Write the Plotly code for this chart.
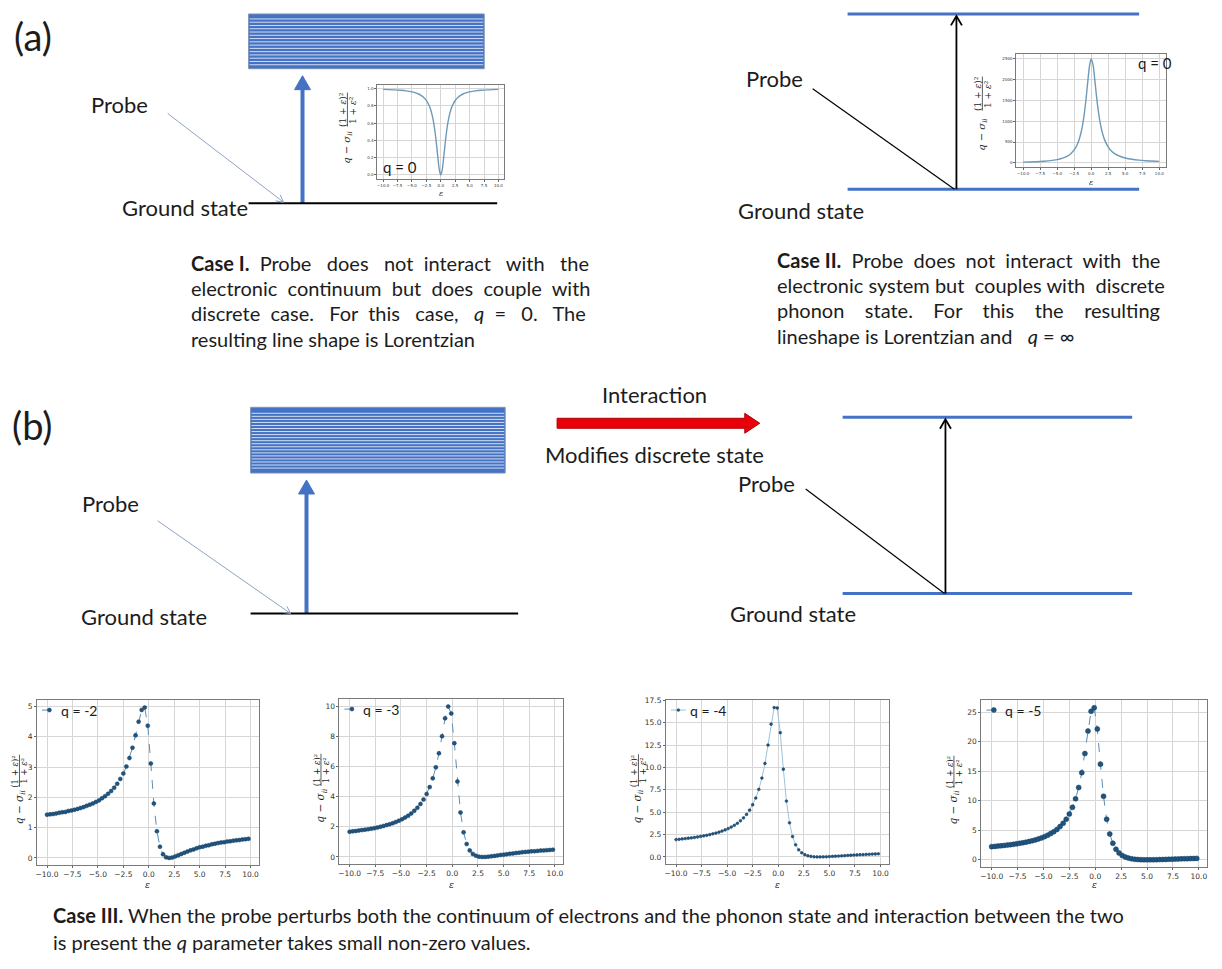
import math
import plotly.graph_objects as go

W, H = 1222, 969

# ---------------------------------------------------------------------------
# Fano line-shape values, read per point (energy grid shared by all four)
# ---------------------------------------------------------------------------
eps = [-10.0, -9.7, -9.4, -9.1, -8.8, -8.5, -8.2, -7.9, -7.6, -7.3, -7.0, -6.7,
       -6.4, -6.1, -5.8, -5.5, -5.2, -4.9, -4.6, -4.3, -4.0, -3.7, -3.4, -3.1,
       -2.8, -2.5, -2.2, -1.9, -1.6, -1.3, -1.0, -0.7, -0.4, -0.1, 0.2, 0.5,
       0.8, 1.1, 1.4, 1.7, 2.0, 2.3, 2.6, 2.9, 3.2, 3.5, 3.8, 4.1, 4.4, 4.7,
       5.0, 5.3, 5.6, 5.9, 6.2, 6.5, 6.8, 7.1, 7.4, 7.7, 8.0, 8.3, 8.6, 8.9,
       9.2, 9.5, 9.8]

fano_q2 = [1.43, 1.44, 1.45, 1.47, 1.49, 1.51, 1.52, 1.55, 1.57, 1.59, 1.62, 1.65,
           1.68, 1.72, 1.76, 1.80, 1.85, 1.90, 1.97, 2.04, 2.12, 2.21, 2.32, 2.45,
           2.61, 2.79, 3.02, 3.30, 3.64, 4.05, 4.50, 4.89, 4.97, 4.37, 3.12, 1.80,
           0.88, 0.37, 0.12, 0.02, 0.00, 0.01, 0.05, 0.09, 0.13, 0.17, 0.21, 0.25,
           0.28, 0.32, 0.35, 0.37, 0.40, 0.42, 0.45, 0.47, 0.49, 0.51, 0.52, 0.54,
           0.55, 0.57, 0.58, 0.59, 0.61, 0.62, 0.63]

fano_q3 = [1.67, 1.70, 1.72, 1.75, 1.78, 1.81, 1.84, 1.87, 1.91, 1.95, 2.00, 2.05,
           2.11, 2.17, 2.24, 2.31, 2.40, 2.50, 2.61, 2.73, 2.88, 3.06, 3.26, 3.51,
           3.81, 4.17, 4.63, 5.21, 5.94, 6.87, 8.00, 9.19, 9.97, 9.51, 7.54, 5.00,
           2.95, 1.63, 0.86, 0.43, 0.20, 0.08, 0.02, 0.00, 0.00, 0.02, 0.04, 0.07,
           0.10, 0.13, 0.15, 0.18, 0.21, 0.23, 0.26, 0.28, 0.31, 0.33, 0.35, 0.37,
           0.38, 0.40, 0.42, 0.43, 0.45, 0.46, 0.48]

fano_q4 = [1.94, 1.97, 2.01, 2.05, 2.09, 2.13, 2.18, 2.23, 2.29, 2.35, 2.42, 2.49,
           2.58, 2.67, 2.77, 2.89, 3.02, 3.17, 3.34, 3.53, 3.76, 4.04, 4.36, 4.75,
           5.23, 5.83, 6.58, 7.55, 8.81, 10.44, 12.50, 14.83, 16.69, 16.64, 13.88, 9.80,
           6.24, 3.81, 2.28, 1.36, 0.80, 0.46, 0.25, 0.13, 0.06, 0.02, 0.00, 0.00,
           0.01, 0.02, 0.04, 0.06, 0.08, 0.10, 0.12, 0.14, 0.17, 0.19, 0.21, 0.23,
           0.25, 0.26, 0.28, 0.30, 0.32, 0.33, 0.35]

fano_q5 = [2.23, 2.27, 2.32, 2.37, 2.43, 2.49, 2.55, 2.62, 2.70, 2.79, 2.88, 2.98,
           3.10, 3.22, 3.37, 3.53, 3.71, 3.92, 4.16, 4.44, 4.76, 5.15, 5.62, 6.18,
           6.88, 7.76, 8.88, 10.33, 12.24, 14.76, 18.00, 21.80, 25.14, 25.75, 22.15, 16.20,
           10.76, 6.88, 4.38, 2.80, 1.80, 1.16, 0.74, 0.47, 0.29, 0.17, 0.09, 0.05,
           0.02, 0.00, 0.00, 0.00, 0.01, 0.02, 0.04, 0.05, 0.07, 0.09, 0.10, 0.12,
           0.14, 0.16, 0.17, 0.19, 0.21, 0.22, 0.24]

# inset curves (Case I dip and Case II peak)
inset_eps = [-10, -9, -8, -7, -6, -5, -4.5, -4, -3.5, -3, -2.5, -2, -1.75, -1.5,
             -1.25, -1, -0.75, -0.5, -0.25, 0, 0.25, 0.5, 0.75, 1, 1.25, 1.5,
             1.75, 2, 2.5, 3, 3.5, 4, 4.5, 5, 6, 7, 8, 9, 10]
inset_dip = [0.990, 0.988, 0.985, 0.980, 0.973, 0.962, 0.953, 0.941, 0.925, 0.900,
             0.862, 0.800, 0.754, 0.692, 0.610, 0.500, 0.360, 0.200, 0.059, 0.0,
             0.059, 0.200, 0.360, 0.500, 0.610, 0.692, 0.754, 0.800, 0.862, 0.900,
             0.925, 0.941, 0.953, 0.962, 0.973, 0.980, 0.985, 0.988, 0.990]
inset_peak = [15.8, 20.5, 27.1, 37.0, 52.3, 77.9, 97.4, 124.5, 163.2, 220.9, 311.2,
              460.8, 573.1, 723.8, 927.4, 1200.5, 1552.4, 1960.2, 2329.5, 2500.0,
              2376.5, 2040.2, 1648.4, 1300.5, 1025.0, 816.1, 659.2, 540.8, 380.2,
              280.9, 216.0, 171.5, 139.8, 116.3, 84.8, 65.0, 51.8, 42.5, 35.6]

x_ticks = [-10, -7.5, -5, -2.5, 0, 2.5, 5, 7.5, 10]
x_tick_text = ["\u221210.0", "\u22127.5", "\u22125.0", "\u22122.5", "0.0", "2.5", "5.0", "7.5", "10.0"]
legend_labels = ["q = -2", "q = -3", "q = -4", "q = -5"]

BLUE = "#4472c4"
TEXT = "#1c1c1c"
FONT = "Lato"
MATH = "DejaVu Serif"
NB = "\u00a0"

fig = go.Figure()
layout = dict(
    width=W, height=H, margin=dict(l=0, r=0, t=0, b=0),
    paper_bgcolor="white", plot_bgcolor="white", showlegend=False,
    xaxis=dict(domain=[0, 1], range=[0, W], visible=False, fixedrange=True),
    yaxis=dict(domain=[0, 1], range=[H, 0], visible=False, fixedrange=True),
)
shapes, annotations = [], []


def dom_x(l, r):
    return [l / W, r / W]


def dom_y(t, b):
    return [1 - b / H, 1 - t / H]


def text(s, x, y, size, anchor="left", family=FONT, color=TEXT, angle=0):
    annotations.append(dict(text=s, x=x, y=y, xref="x", yref="y", showarrow=False,
                            xanchor=anchor, yanchor="middle", textangle=angle,
                            font=dict(size=size, family=family, color=color)))


def line(x0, y0, x1, y1, color, width, dash="solid"):
    shapes.append(dict(type="line", x0=x0, y0=y0, x1=x1, y1=y1, xref="x", yref="y",
                       line=dict(color=color, width=width, dash=dash)))


def open_head(x0, y0, x1, y1, color, width, length, spread=28):
    ang = math.atan2(y1 - y0, x1 - x0)
    pts = []
    for s in (spread, -spread):
        a = ang + math.pi - math.radians(s)
        pts.append((x1 + length * math.cos(a), y1 + length * math.sin(a)))
    path = f"M{pts[0][0]:.1f},{pts[0][1]:.1f} L{x1},{y1} L{pts[1][0]:.1f},{pts[1][1]:.1f}"
    shapes.append(dict(type="path", path=path, xref="x", yref="y",
                       line=dict(color=color, width=width)))


def blue_arrow(x, y_base, y_tip, half, head):
    line(x, y_base, x, y_tip + head - 1, BLUE, 4)
    path = f"M{x - half},{y_tip + head} L{x},{y_tip} L{x + half},{y_tip + head} Z"
    shapes.append(dict(type="path", path=path, xref="x", yref="y",
                       fillcolor=BLUE, line=dict(color=BLUE, width=1)))


def continuum(x0, x1, y0, y1, s0, s1, n):
    shapes.append(dict(type="rect", x0=x0, x1=x1, y0=y0, y1=y1, xref="x", yref="y",
                       fillcolor=BLUE, line=dict(color="#7f93b5", width=1)))
    for i in range(n):
        yy = s0 + (s1 - s0) * i / (n - 1)
        line(x0 + 1, yy, x1 - 1, yy, "#d4def0", 1)


def spread_words(s, extra):
    """Widen the word gaps of a paragraph line by `extra` no-break spaces in total."""
    words = s.split(" ")
    gaps = len(words) - 1
    out = words[0]
    for i in range(gaps):
        n = extra * (i + 1) // gaps - extra * i // gaps
        out += " " + NB * n + words[i + 1]
    return out


# ---------------------------- panel (a) ------------------------------------
text("(a)", 11, 32, 38)
continuum(248, 484, 10, 65, 15, 61, 15)
blue_arrow(302, 200, 72, 8, 14)
line(248, 200, 497, 200, "black", 2)
text("Probe", 88, 101, 22)
text("Ground state", 249, 204, 22, anchor="right")
line(167, 110, 283, 199, "#8ea3c2", 1)
open_head(167, 110, 283, 199, "#8ea3c2", 1, 8)

line(848, 10, 1140, 10, BLUE, 3)
line(848, 186, 1140, 186, BLUE, 3)
line(957, 186, 957, 13, "black", 1.8)
open_head(957, 186, 957, 12, "black", 1.8, 11, 30)
line(813, 85, 955, 186, "black", 1.2)
text("Probe", 744, 75, 22)
text("Ground state", 736, 207, 22)

case1 = [("<b>Case" + NB + "I.</b> Probe does not interact with the", 10),
         ("electronic continuum but does couple with", 5),
         ("discrete case. For this case, <i>q</i> = 0. The", 13),
         ("resulting line shape is Lorentzian", 0)]
for i, (s, ex) in enumerate(case1):
    text(spread_words(s, ex), 188, 260 + 25.3 * i, 20)
case2 = [("<b>Case" + NB + "II.</b> Probe does not interact with the", 6),
         ("electronic system but couples with discrete", 2),
         ("phonon state. For this the resulting", 15),
         ("lineshape is Lorentzian and" + NB + NB + " <i>q</i> = \u221e", 0)]
for i, (s, ex) in enumerate(case2):
    text(spread_words(s, ex), 775, 257 + 25.3 * i, 20)

# ---------------------------- panel (b) ------------------------------------
text("(b)", 9, 423, 38)
continuum(250, 505, 405, 471, 411, 466, 19)
blue_arrow(306, 612, 478, 8, 14)
line(250, 612, 518, 612, "black", 2)
text("Probe", 79, 502, 22)
text("Ground state", 78, 615, 22)
line(157, 519, 290, 612, "#8ea3c2", 1)
open_head(157, 519, 290, 612, "#8ea3c2", 1, 8)

shapes.append(dict(type="path", xref="x", yref="y",
                   path="M557,416 L745,416 L745,411 L760,421 L745,431 L745,426 L557,426 Z",
                   fillcolor="#e8000b", line=dict(color="#b00000", width=1)))
text("Interaction", 655, 392, 22, anchor="center")
text("Modifies discrete state", 543, 452, 22)

line(843, 415, 1133, 415, BLUE, 3)
line(843, 592, 1133, 592, BLUE, 3)
line(946, 592, 946, 418, "black", 1.8)
open_head(946, 592, 946, 417, "black", 1.8, 11, 30)
line(806, 487, 945, 592, "black", 1.2)
text("Probe", 736, 481, 22)
text("Ground state", 728, 612, 22)

case3 = ["<b>Case" + NB + "III.</b> When the probe perturbs both the continuum of electrons and the phonon state and interaction between the two",
         "is present the <i>q</i> parameter takes small non-zero values."]
for i, s in enumerate(case3):
    text(s, 50, 915 + 27 * i, 20)

# ------------------------------- axes helpers -------------------------------
GRID = "#d6d6d6"
FRAME = "#7a7a7a"


def add_axes(n, box, xr, yr, yticks, yticktext, tick_size):
    l, r, t, b = box
    common = dict(showgrid=True, gridcolor=GRID, gridwidth=1, zeroline=False,
                  showline=True, mirror=True, linecolor=FRAME, linewidth=1,
                  ticks="outside", ticklen=2, tickcolor="#666", fixedrange=True,
                  tickfont=dict(size=tick_size, family="DejaVu Sans", color="#333"))
    layout[f"xaxis{n}"] = dict(domain=dom_x(l, r), anchor=f"y{n}", range=xr,
                               tickvals=x_ticks, ticktext=x_tick_text, **common)
    layout[f"yaxis{n}"] = dict(domain=dom_y(t, b), anchor=f"x{n}", range=yr,
                               tickvals=yticks, ticktext=yticktext, **common)


def ylabel(xn, xd, yq, yf, size_q, size_f):
    # "q − σ_ii (1+ε)²/(1+ε²)" written sideways
    xm = (xn + xd) / 2
    text("<i>q</i> \u2212 <i>\u03c3</i><sub><i>ii</i></sub>", xm, yq, size_q,
         anchor="center", family=MATH, angle=-90)
    text("(1 + <i>\u03b5</i>)\u00b2", xn, yf, size_f, anchor="center", family=MATH, angle=-90)
    text("1 + <i>\u03b5</i>\u00b2", xd, yf, size_f, anchor="center", family=MATH, angle=-90)
    half = size_f * 1.9
    line(xm, yf - half, xm, yf + half, "#333", 0.8)


def legend_key(l, t, label, msize, dash, lcol):
    y = t + 10
    line(l + 5, y, l + 20, y, lcol, 1, dash)
    r = msize / 2
    shapes.append(dict(type="circle", xref="x", yref="y", x0=l + 12.5 - r, x1=l + 12.5 + r,
                       y0=y - r, y1=y + r, fillcolor="#1f5580",
                       line=dict(color="#163f60", width=0.5)))
    text(label, l + 22, y, 14)


# inset of Case I
add_axes(2, (377, 504, 81, 176), [-11, 11], [-0.05, 1.045],
         [0, 0.2, 0.4, 0.6, 0.8, 1.0], ["0.0", "0.2", "0.4", "0.6", "0.8", "1.0"], 4)
fig.add_trace(go.Scatter(x=inset_eps, y=inset_dip, mode="lines", xaxis="x2", yaxis="y2",
                         line=dict(color="#6d9ab8", width=1.4, shape="spline"),
                         showlegend=False, hoverinfo="skip"))
text("q = 0", 381, 164, 15)
text("<i>\u03b5</i>", 441, 190, 8, anchor="center", family=MATH)
ylabel(342, 352, 144, 106, 10, 9)

# inset of Case II
add_axes(3, (1017, 1167, 50, 164), [-11, 11], [-108, 2624],
         [0, 500, 1000, 1500, 2000, 2500], ["0", "500", "1000", "1500", "2000", "2500"], 4)
fig.add_trace(go.Scatter(x=inset_eps, y=inset_peak, mode="lines", xaxis="x3", yaxis="y3",
                         line=dict(color="#6d9ab8", width=1.4, shape="spline"),
                         showlegend=False, hoverinfo="skip"))
text("q = 0", 1137, 59, 15)
text("<i>\u03b5</i>", 1092, 179, 8, anchor="center", family=MATH)
ylabel(978, 988, 131, 90, 10, 9)

# four Case III profiles
bottom = [
    dict(y=fano_q2, box=(36, 258, 699, 865), yr=[-0.248, 5.214],
         yt=[0, 1, 2, 3, 4, 5], ytt=["0", "1", "2", "3", "4", "5"],
         msize=4, dash="dash", lcol="#5b8db5", lab=(14, 23)),
    dict(y=fano_q3, box=(339, 563, 698, 864), yr=[-0.497, 10.464],
         yt=[0, 2, 4, 6, 8, 10], ytt=["0", "2", "4", "6", "8", "10"],
         msize=4, dash="dash", lcol="#5b8db5", lab=(316, 325)),
    dict(y=fano_q4, box=(666, 889, 699, 864), yr=[-0.834, 17.52],
         yt=[0, 2.5, 5, 7.5, 10, 12.5, 15, 17.5],
         ytt=["0.0", "2.5", "5.0", "7.5", "10.0", "12.5", "15.0", "17.5"],
         msize=2.8, dash="solid", lcol="#9cc3da", lab=(634, 643)),
    dict(y=fano_q5, box=(982, 1208, 699, 867), yr=[-1.29, 27.04],
         yt=[0, 5, 10, 15, 20, 25], ytt=["0", "5", "10", "15", "20", "25"],
         msize=5, dash="dash", lcol="#5b8db5", lab=(950, 959)),
]
for k, p in enumerate(bottom):
    n = k + 4
    l, r, t, b = p["box"]
    add_axes(n, p["box"], [-10.99, 10.79], p["yr"], p["yt"], p["ytt"], 7.5)
    fig.add_trace(go.Scatter(
        x=eps, y=p["y"], mode="lines+markers", xaxis=f"x{n}", yaxis=f"y{n}",
        name=legend_labels[k], hoverinfo="skip",
        line=dict(color=p["lcol"], width=1, dash=p["dash"]),
        marker=dict(color="#1f5580", size=p["msize"], symbol="circle",
                    line=dict(color="#163f60", width=0.5))))
    legend_key(l, t, legend_labels[k], p["msize"], p["dash"], p["lcol"])
    text("<i>\u03b5</i>", (l + r) / 2, 885, 9, anchor="center", family=MATH)
    yc = (t + b) / 2
    ylabel(p["lab"][0], p["lab"][1], yc + 24, yc - 12, 10.5, 8.5)

layout["shapes"] = shapes
layout["annotations"] = annotations
fig.update_layout(**layout)
fig.write_html("out.html")
